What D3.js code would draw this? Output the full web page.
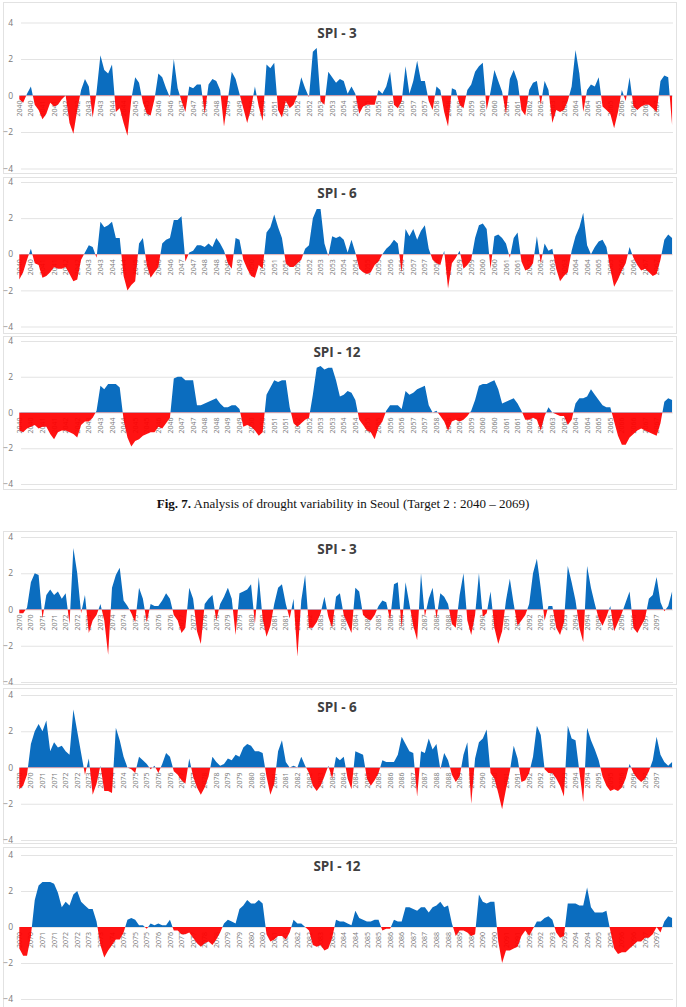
<!DOCTYPE html>
<html>
<head>
<meta charset="utf-8">
<script src="https://cdn.jsdelivr.net/npm/d3@7"></script>
<style>
body { margin: 0; background: #fff; }
</style>
</head>
<body>
<svg id="chart" width="686" height="1007"></svg>
<script>
// SPI values, one every 2 months (month index 0, 2, 4 ... 338)
var spi3_t2 = [
 -0.2,-0.4,0.1,0.5,-0.5,-0.8,-1.3,-1.0,-0.4,-0.6,
 -0.5,-0.2,0.0,-1.5,-2.1,-0.8,0.3,0.9,0.5,-1.2,
 0.2,2.2,1.4,1.2,1.7,-0.9,-0.7,-1.5,-2.2,-0.2,
 1.0,0.7,-0.4,-1.0,-1.1,-0.2,1.2,1.0,0.4,-0.1,
 2.0,0.4,-0.3,-0.9,0.5,0.4,0.6,0.6,-1.0,0.6,
 0.9,0.8,0.3,-1.7,-0.2,1.3,0.9,0.1,-0.7,-1.5,
 -0.7,0.5,-0.6,-1.4,1.7,1.5,1.8,-0.8,-1.2,-0.3,
 -0.7,-0.5,0.0,1.0,0.4,-0.1,2.4,2.6,-0.3,-0.5,
 1.3,1.0,0.7,0.9,0.8,0.1,0.5,0.1,-1.0,-0.6,
 -0.5,-0.5,-0.5,0.3,0.1,0.5,1.3,-0.5,-0.7,-0.3,
 1.6,0.1,0.8,1.9,0.8,0.8,-0.3,-0.8,0.5,0.3,
 -0.9,-1.7,0.4,0.3,-0.5,-0.7,0.3,0.6,1.3,1.6,
 1.8,-0.8,0.2,1.4,0.8,0.2,-1.0,0.9,1.4,0.8,
 -0.8,-1.1,0.3,0.7,0.8,-0.5,0.8,0.3,-1.5,-0.8,
 -0.9,-0.8,-0.3,0.5,2.5,1.2,-0.9,0.3,0.6,0.5,
 1.0,-0.6,-0.8,-1.0,-1.8,-0.9,0.3,-0.3,1.0,-0.6,
 -0.8,-0.6,-0.5,-0.5,-0.7,-0.9,0.8,1.1,1.0,-1.6
];
var spi6_t2 = [
 -1.4,-1.0,-0.3,0.3,-0.5,-0.6,-1.3,-1.2,-1.0,-0.7,
 -0.8,-0.8,-0.7,-1.1,-1.5,-1.4,-0.3,0.1,0.5,0.4,
 -0.2,1.8,1.5,1.6,1.8,0.9,0.9,-1.2,-2.0,-1.7,
 -1.5,0.6,0.9,-0.6,-1.3,-1.0,-0.7,0.6,0.8,0.9,
 1.9,1.9,2.1,-0.4,0.1,0.2,0.5,0.5,0.4,0.6,
 0.4,0.9,0.6,0.2,-0.5,-0.8,0.9,0.8,-0.3,-0.8,
 -1.2,-1.3,-0.6,-0.8,1.2,1.5,2.2,1.5,0.9,-0.5,
 -0.7,-0.7,-0.5,-0.3,0.3,0.5,2.0,2.5,2.5,0.6,
 -0.1,1.0,0.9,1.0,0.8,0.1,0.8,0.1,-0.8,-1.0,
 -1.1,-1.0,-0.6,-0.4,0.0,0.3,0.5,0.8,0.6,-1.0,
 1.4,1.0,1.4,0.8,1.3,1.6,0.3,-0.3,-0.5,-0.6,
 0.2,-1.9,-0.5,-0.2,0.2,-0.8,-0.6,-0.3,0.9,1.6,
 1.7,1.4,-0.8,1.0,1.1,0.9,0.6,-0.2,0.9,1.2,
 -0.4,-0.9,-0.8,-0.5,1.0,-0.5,0.6,0.2,0.3,-0.8,
 -1.5,-1.2,-1.0,0.2,1.0,1.5,2.3,0.5,0.0,0.4,
 0.7,0.8,0.4,-0.8,-1.8,-1.4,-0.9,-0.5,0.4,-0.2,
 -0.6,-0.9,-0.8,-1.0,-1.2,-1.1,-0.3,0.8,1.1,0.9
];
var spi12_t2 = [
 -1.0,-1.1,-0.9,-0.8,-0.7,-0.9,-0.8,-0.8,-1.2,-1.5,
 -1.1,-1.0,-1.0,-1.1,-1.2,-1.4,-0.7,-0.5,-0.5,-0.3,
 0.1,1.5,1.3,1.6,1.6,1.6,1.4,-0.4,-1.4,-1.9,
 -1.6,-1.5,-1.3,-1.2,-1.1,-1.1,-0.8,-0.9,-0.6,-0.3,
 1.9,2.0,2.0,1.8,1.8,1.8,0.4,0.4,0.5,0.6,
 0.7,0.8,0.5,0.3,0.3,0.4,0.4,0.2,-0.8,-0.7,
 -0.8,-1.0,-1.3,-1.1,1.0,1.4,1.8,1.7,1.8,1.8,
 0.3,-0.6,-0.8,-0.6,-0.4,-0.3,1.0,2.5,2.6,2.4,
 2.5,2.5,1.8,0.9,1.0,1.2,1.1,0.7,-0.4,-0.7,
 -1.0,-1.1,-1.5,-0.8,-0.5,0.1,0.4,0.4,0.4,0.2,
 1.2,1.0,1.1,1.3,1.4,1.5,0.4,0.0,0.1,-0.2,
 -0.5,-1.0,-0.5,-0.4,-0.5,-0.4,-0.2,0.1,0.7,1.5,
 1.6,1.6,1.7,1.8,1.3,0.5,0.6,0.7,0.8,0.5,
 0.1,-0.4,-0.4,-0.3,-0.4,-1.0,-0.2,0.3,0.0,-0.1,
 -0.2,-0.2,-0.7,-0.4,0.5,0.8,0.8,0.9,1.3,1.0,
 0.7,0.4,0.3,0.3,-0.5,-1.3,-1.8,-1.8,-1.4,-1.2,
 -1.0,-0.9,-1.0,-1.1,-1.2,-1.3,-0.6,0.6,0.8,0.7
];
var spi3_t3 = [
 -0.2,-0.2,0.1,1.5,2.0,1.9,-0.5,0.8,1.1,0.8,
 1.0,0.6,0.9,-0.8,3.4,2.0,-0.2,0.8,-1.3,-0.6,
 -0.3,0.3,-0.6,-2.5,1.2,1.9,2.3,0.5,0.2,-0.2,
 -0.7,1.2,0.6,-0.7,0.3,0.2,0.2,0.5,0.9,0.6,
 -0.3,-0.6,-1.3,-1.0,1.2,0.6,-1.2,-1.9,0.3,0.6,
 0.8,-0.6,0.3,0.7,1.2,0.6,-1.4,0.9,1.0,1.1,
 1.4,-0.8,1.8,-0.5,-1.5,-0.9,0.3,1.2,1.4,0.3,
 -0.5,0.6,-2.6,0.5,1.9,-1.0,-1.0,-0.7,-0.2,0.7,
 -0.4,-1.0,0.7,0.9,-0.3,-0.8,-1.3,1.2,1.0,-0.3,
 -0.5,-0.6,-0.3,0.2,0.5,0.4,-0.6,1.4,1.5,-1.0,
 1.5,0.3,-0.9,-1.7,2.0,-0.4,0.6,1.2,-0.5,0.9,
 0.7,0.3,-0.8,-1.0,0.8,2.0,-0.6,-1.4,-0.3,2.0,
 -0.4,-0.2,1.0,-1.0,-1.9,-1.2,0.5,1.7,0.3,-0.9,
 -0.6,-0.3,0.3,2.0,2.8,1.2,-0.6,0.2,0.2,-1.0,
 -1.4,-0.7,2.4,1.5,0.5,-1.0,-1.8,2.4,1.2,0.3,
 -0.5,-0.9,-0.4,0.2,-1.2,-0.7,-0.2,0.4,1.0,-1.0,
 -1.3,-0.9,-0.5,0.6,0.8,1.8,0.4,-0.1,0.2,1.0
];
var spi6_t3 = [
 -1.2,-1.0,-0.4,1.3,2.0,2.4,2.0,2.6,0.9,1.4,
 1.1,1.2,0.9,0.7,3.2,2.0,0.8,-0.4,0.5,-1.5,
 -0.9,0.1,-1.3,-1.3,-1.4,2.2,1.5,0.6,0.0,-0.1,
 -0.3,0.6,0.4,0.2,-0.1,0.1,-0.3,0.2,0.8,0.6,
 -0.2,-0.4,-0.7,-0.9,0.5,-0.5,-1.1,-1.5,-1.1,-0.5,
 0.6,0.3,0.1,0.2,0.5,0.4,0.7,0.6,1.1,1.3,
 1.2,0.9,0.9,0.8,-0.5,-1.5,-0.9,0.9,1.5,0.3,
 0.0,0.1,0.0,0.6,0.1,-0.3,-1.0,-1.3,-1.0,-0.5,
 0.1,-0.6,0.6,0.4,0.6,-0.6,-1.2,0.9,0.8,0.7,
 -0.6,-1.0,-0.7,-0.3,0.4,0.3,0.3,0.3,0.7,1.7,
 1.3,0.9,0.8,-1.6,0.9,0.8,1.6,1.0,1.3,-0.1,
 0.8,0.4,-0.4,-0.8,-0.5,0.7,1.4,-2.0,0.5,1.4,
 1.6,2.1,-0.3,-0.6,-1.4,-2.3,-1.2,-0.2,1.2,0.5,
 -0.8,-0.7,-0.3,0.6,2.3,1.8,-0.1,-0.3,-0.3,-0.6,
 -1.0,-1.6,2.3,1.6,1.5,-0.2,-1.9,2.2,1.5,1.0,
 0.4,-0.5,-1.0,-1.3,-1.2,-1.3,-1.1,-0.6,0.2,-0.3,
 -0.6,-0.8,-0.6,-0.2,0.4,1.7,0.7,0.3,0.1,0.3
];
var spi12_t3 = [
 -1.2,-1.6,-1.6,-0.5,1.5,2.3,2.5,2.5,2.5,2.4,
 1.9,1.1,1.4,1.2,1.8,2.0,1.4,1.2,1.0,1.0,
 0.3,-1.0,-1.7,-1.3,-1.0,-0.7,-0.7,-0.3,0.4,0.5,
 0.4,0.1,0.1,-0.1,0.2,0.1,0.2,0.1,0.1,0.4,
 -0.2,-0.2,-0.4,-0.4,-0.3,-0.6,-0.9,-1.1,-0.9,-0.8,
 -1.0,-0.7,-0.3,0.2,0.4,0.3,0.2,1.0,1.2,1.5,
 1.3,1.3,1.5,1.3,-0.4,-0.8,-0.7,-0.5,-0.5,-0.7,
 -0.3,0.4,0.2,0.2,0.0,-0.2,-1.0,-1.1,-1.0,-1.3,
 -1.2,-0.6,0.4,0.3,0.3,0.2,0.1,0.9,0.5,0.4,
 0.3,0.3,0.4,0.4,-0.2,-0.1,-0.1,0.4,0.3,0.3,
 1.1,1.1,1.0,0.9,1.1,1.1,0.8,1.1,1.2,1.4,
 1.1,1.2,0.2,-0.5,-0.2,-0.2,-0.3,-0.5,-0.4,1.8,
 1.4,1.3,1.4,1.4,-0.8,-2.0,-1.3,-1.3,-1.2,-1.1,
 -0.5,-0.2,-0.5,-0.1,0.3,0.3,0.5,0.6,0.4,-0.3,
 -0.6,-0.5,1.3,1.3,1.3,1.2,1.2,2.2,1.1,0.8,
 0.8,0.8,0.9,-0.2,-1.2,-1.5,-1.4,-1.4,-1.2,-1.0,
 -0.8,-0.8,-0.6,-0.6,-0.4,0.0,-0.3,0.3,0.6,0.5
];

var titles = ['SPI - 3', 'SPI - 6', 'SPI - 12', 'SPI - 3', 'SPI - 6', 'SPI - 12'];
var startYears = [2040, 2040, 2040, 2070, 2070, 2070];
var yTicks = [-4, -2, 0, 2, 4];
var captionBold = 'Fig. 7.';
var captionText = ' Analysis of drought variability in Seoul (Target 2 : 2040 \u2013 2069)';

var series = [spi3_t2, spi6_t2, spi12_t2, spi3_t3, spi6_t3, spi12_t3];
// layout of each panel: y of the 4 line, y of the -4 line, box top/bottom, title y
var layout = [
  {top: 22.5, bottom: 168.5, box: [2, 173], ty: 38},
  {top: 182, bottom: 326.5, box: [177, 333], ty: 198},
  {top: 341, bottom: 484, box: [336, 489], ty: 357},
  {top: 537, bottom: 682, box: [531, 684], ty: 554},
  {top: 695, bottom: 840, box: [688, 843], ty: 712},
  {top: 855, bottom: 999, box: [847, 1012], ty: 871}
];

var svg = d3.select('#chart');
var x = d3.scaleLinear().domain([0, 339]).range([19.3, 674]);
var tickMonths = d3.range(0, 331, 6);

series.forEach(function(vals, i) {
  var L = layout[i];
  var y = d3.scaleLinear().domain([-4, 4]).range([L.bottom, L.top]);
  var data = vals.map(function(v, k) { return {m: k * 2, v: v}; });
  var g = svg.append('g');

  g.append('rect')
    .attr('x', 3.5).attr('y', L.box[0] + 0.5)
    .attr('width', 673).attr('height', L.box[1] - L.box[0])
    .attr('fill', 'none').attr('stroke', '#e2e2e2');

  var ax = g.append('g').attr('transform', 'translate(21,0)')
    .call(d3.axisLeft(y).tickValues(yTicks).tickSize(-652).tickPadding(8));
  ax.select('.domain').remove();
  ax.selectAll('line').attr('stroke', '#e3e3e3');
  ax.selectAll('text').attr('fill', '#7a7a7a')
    .style('font-family', '"Open Sans", sans-serif').style('font-size', '8.5px');

  // year labels under the zero line
  g.selectAll('text.xl').data(tickMonths).join('text')
    .attr('class', 'xl')
    .attr('transform', function(d) { return 'translate(' + (x(d) + 2.6) + ',' + (y(0) + 5) + ') rotate(-90)'; })
    .attr('text-anchor', 'end')
    .attr('fill', '#7a7a7a')
    .style('font-family', '"Open Sans", sans-serif').style('font-size', '7px')
    .text(function(d) { return startYears[i] + Math.floor(d / 12); });

  svg.append('clipPath').attr('id', 'pos' + i)
    .append('rect').attr('x', 0).attr('y', 0).attr('width', 686).attr('height', y(0));
  svg.append('clipPath').attr('id', 'neg' + i)
    .append('rect').attr('x', 0).attr('y', y(0)).attr('width', 686).attr('height', 1007);

  var area = d3.area()
    .x(function(d) { return x(d.m); })
    .y0(y(0))
    .y1(function(d) { return y(d.v); });

  g.append('path').datum(data).attr('d', area)
    .attr('fill', '#0b6dbf').attr('clip-path', 'url(#pos' + i + ')');
  g.append('path').datum(data).attr('d', area)
    .attr('fill', '#ff0000').attr('fill-opacity', 0.93).attr('clip-path', 'url(#neg' + i + ')');

  g.append('text')
    .attr('x', 337).attr('y', L.ty)
    .attr('text-anchor', 'middle')
    .attr('fill', '#404040')
    .style('font-family', '"Open Sans", sans-serif').style('font-size', '13.5px').style('font-weight', 'bold')
    .text(titles[i]);
});

var cap = svg.append('text')
  .attr('x', 343).attr('y', 508)
  .attr('text-anchor', 'middle')
  .attr('fill', '#111')
  .style('font-family', '"Liberation Serif", serif').style('font-size', '13px');
cap.append('tspan').style('font-weight', 'bold').text(captionBold);
cap.append('tspan').text(captionText);
</script>
</body>
</html>
